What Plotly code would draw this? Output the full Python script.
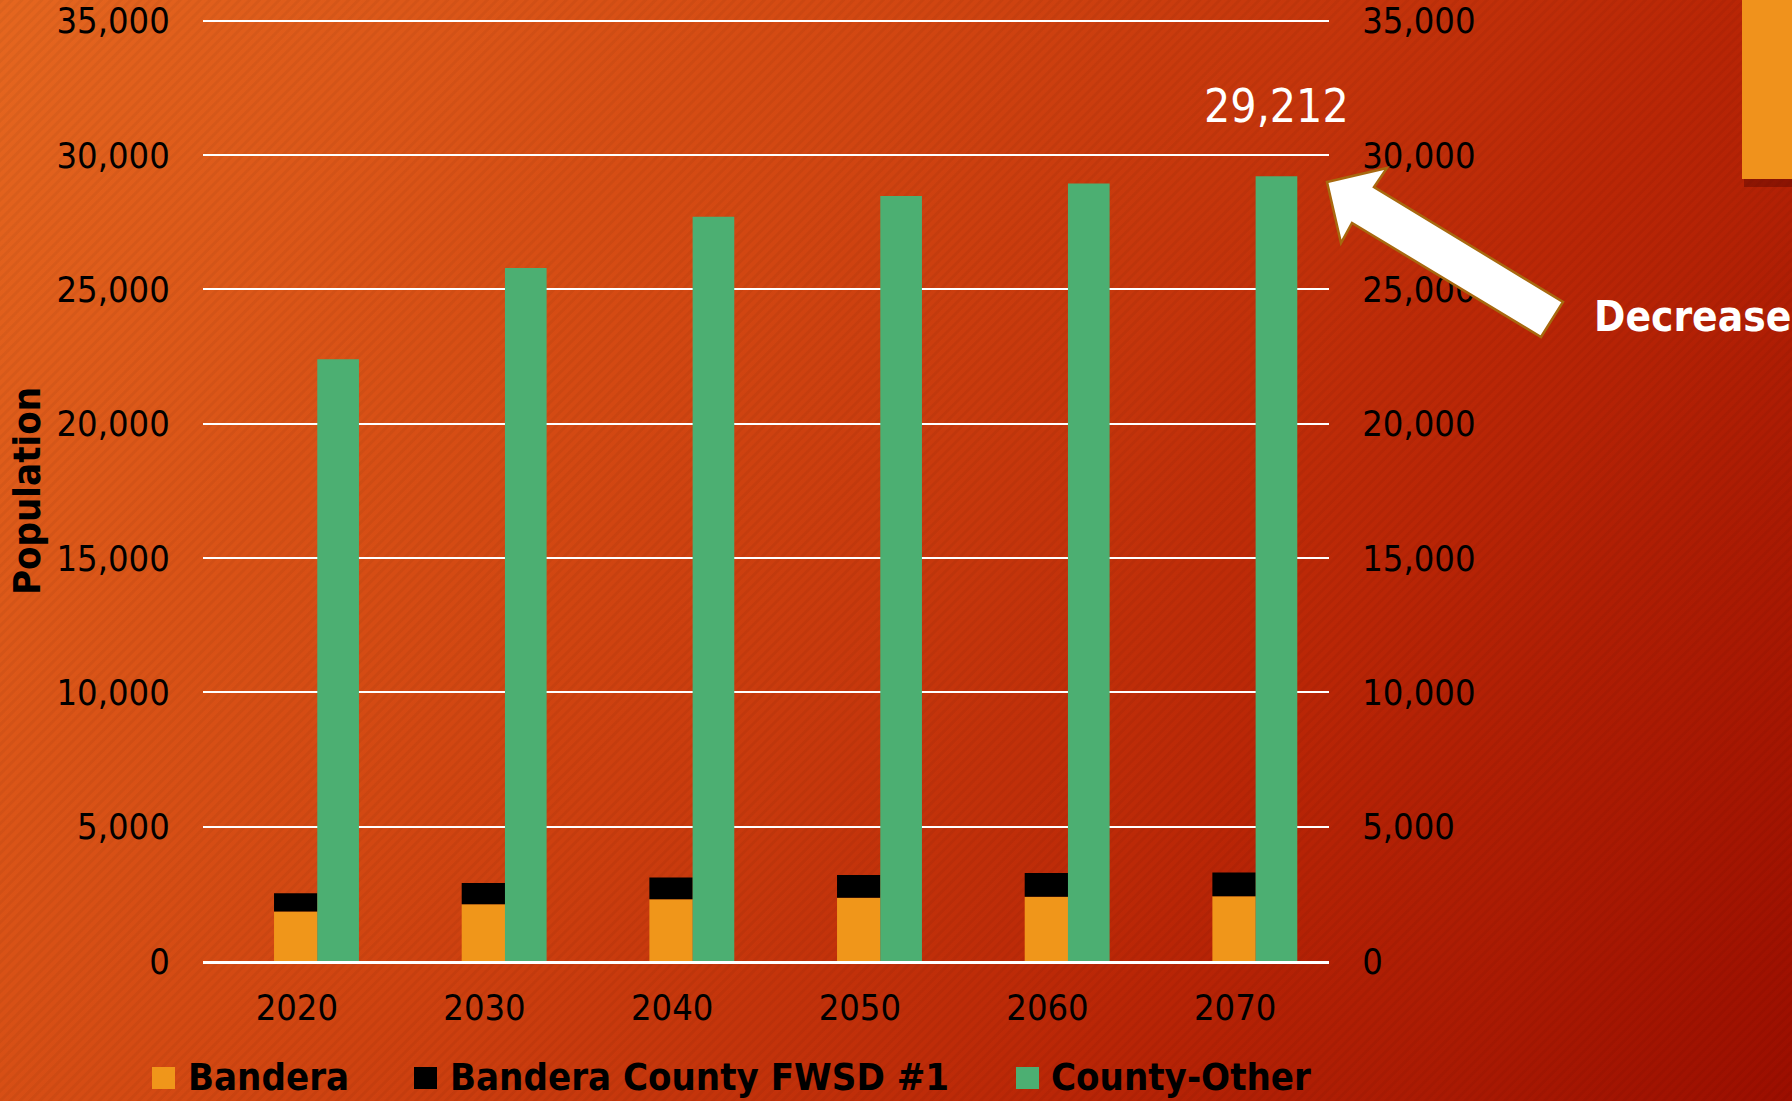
import base64
import plotly.graph_objects as go

# ---------------- data ----------------
years = ["2020", "2030", "2040", "2050", "2060", "2070"]
bandera = [1840, 2110, 2300, 2350, 2390, 2410]
fwsd = [685, 795, 810, 850, 890, 880]
county_other = [22400, 25790, 27700, 28470, 28940, 29212]
series_names = ["Bandera", "Bandera County FWSD #1", "County-Other"]
y_ticks = [0, 5000, 10000, 15000, 20000, 25000, 30000, 35000]
y_max = 35100

# ---------------- geometry helpers ----------------
W, H = 1792, 1101
L, R, T, B = 203, 463, 18, 140
PW, PH = W - L - R, H - T - B


def px(x):
    return (x - L) / PW


def py(y):
    return (H - B - y) / PH


ORANGE = "#F0961A"
BLACK = "#000000"
GREEN = "#4CAF72"
TICKFONT = "DejaVu Sans Condensed, Liberation Sans Narrow, sans-serif"

# ---------------- background (gradient + stripes) ----------------
svg = f'''<svg xmlns="http://www.w3.org/2000/svg" width="{W}" height="{H}" viewBox="0 0 {W} {H}" preserveAspectRatio="none">
<defs>
<linearGradient id="g" gradientUnits="userSpaceOnUse" x1="0" y1="0" x2="{W}" y2="{H}">
<stop offset="0" stop-color="rgb(229,102,31)"/>
<stop offset="0.35" stop-color="rgb(211,72,18)"/>
<stop offset="0.7" stop-color="rgb(186,38,6)"/>
<stop offset="1" stop-color="rgb(156,14,0)"/>
</linearGradient>
<pattern id="p" patternUnits="userSpaceOnUse" width="7" height="7" patternTransform="rotate(45)">
<rect x="0" y="0" width="3" height="7" fill="#000" fill-opacity="0.045"/>
</pattern>
</defs>
<rect width="{W}" height="{H}" fill="url(#g)"/>
<rect width="{W}" height="{H}" fill="url(#p)"/>
</svg>'''
bg_uri = "data:image/svg+xml;base64," + base64.b64encode(svg.encode()).decode()

fig = go.Figure()

fig.add_trace(go.Bar(
    x=years, y=bandera, name=series_names[0], marker=dict(color=ORANGE, line=dict(width=0)),
    offset=-0.1215, width=0.231, showlegend=False, yaxis="y"))
fig.add_trace(go.Bar(
    x=years, y=fwsd, base=bandera, name=series_names[1], marker=dict(color=BLACK, line=dict(width=0)),
    offset=-0.1215, width=0.231, showlegend=False, yaxis="y"))
fig.add_trace(go.Bar(
    x=years, y=county_other, name=series_names[2], marker=dict(color=GREEN, line=dict(width=0)),
    offset=0.109, width=0.222, showlegend=False, yaxis="y2"))

shapes = []
annotations = []

# top-right decorative block with shadow
shapes.append(dict(type="rect", xref="paper", yref="paper",
                   x0=px(1744), x1=px(1795), y0=py(187), y1=py(0),
                   fillcolor="rgba(70,0,0,0.35)", line=dict(width=0), layer="above"))
shapes.append(dict(type="rect", xref="paper", yref="paper",
                   x0=px(1742), x1=px(1795), y0=py(179), y1=py(-2),
                   fillcolor="#F0921C", line=dict(width=0), layer="above"))

# block arrow
arrow_pts = [(1327, 182), (1387, 168), (1374, 187), (1563, 302),
             (1541, 337), (1352, 223), (1341, 243)]
path = "M " + " L ".join(f"{px(a):.5f},{py(b):.5f}" for a, b in arrow_pts) + " Z"
shapes.append(dict(type="path", xref="paper", yref="paper", path=path,
                   fillcolor="white", line=dict(color="#A8690F", width=2.5), layer="above"))

# legend (manual)
legend_items = [(152, 186, ORANGE, series_names[0]),
                (414, 448, BLACK, series_names[1]),
                (1016, 1049, GREEN, series_names[2])]
for sq_x, tx, col, name in legend_items:
    shapes.append(dict(type="rect", xref="paper", yref="paper",
                       x0=px(sq_x), x1=px(sq_x + 23), y0=py(1089), y1=py(1067),
                       fillcolor=col, line=dict(width=0)))
    annotations.append(dict(xref="paper", yref="paper", x=px(tx), y=py(1077),
                            xanchor="left", yanchor="middle", showarrow=False,
                            text=f"<b>{name}</b>",
                            font=dict(family=TICKFONT, size=38, color="black")))

# y axis title
annotations.append(dict(xref="paper", yref="paper", x=px(27), y=py(491),
                        xanchor="center", yanchor="middle", showarrow=False,
                        text="<b>Population</b>", textangle=-90,
                        font=dict(family=TICKFONT, size=38, color="black")))

# data label for last County-Other value
annotations.append(dict(xref="x", yref="y2", x=len(years) - 1 + 0.22, y=county_other[-1],
                        xanchor="center", yanchor="middle", yshift=70, showarrow=False,
                        text=f"{county_other[-1]:,}",
                        font=dict(family=TICKFONT, size=46, color="white")))

# "Decrease" label
annotations.append(dict(xref="paper", yref="paper", x=px(1692), y=py(317),
                        xanchor="center", yanchor="middle", showarrow=False,
                        text="<b>Decrease</b>",
                        font=dict(family="DejaVu Sans Condensed, sans-serif",
                                  size=42, color="white")))

yaxis_common = dict(range=[0, y_max], tickvals=y_ticks, tickformat=",",
                    tickfont=dict(family=TICKFONT, size=36, color="black"),
                    ticks="outside", ticklen=25, tickcolor="rgba(0,0,0,0)",
                    ticklabeloverflow="allow", automargin=False,
                    zeroline=False, showline=False, fixedrange=True)

fig.update_layout(
    width=W, height=H,
    margin=dict(l=L, r=R, t=T, b=B, pad=0, autoexpand=False),
    paper_bgcolor="#C83A0E",
    plot_bgcolor="rgba(0,0,0,0)",
    barmode="overlay",
    showlegend=False,
    xaxis=dict(type="category", range=[-0.5, 5.5], showgrid=False, automargin=False,
               showline=True, linecolor="white", linewidth=2.5,
               ticks="outside", ticklen=13, tickcolor="rgba(0,0,0,0)",
               tickfont=dict(family=TICKFONT, size=36, color="black")),
    yaxis=dict(**yaxis_common, showgrid=True, gridcolor="white", gridwidth=1.6),
    yaxis2=dict(**yaxis_common, overlaying="y", side="right", showgrid=False),
    images=[dict(source=bg_uri, xref="paper", yref="paper",
                 x=px(0), y=py(0), sizex=W / PW, sizey=H / PH,
                 xanchor="left", yanchor="top", sizing="stretch", layer="below")],
    shapes=shapes,
    annotations=annotations,
)

fig.write_html(
    "out.html",
    config={"displayModeBar": False},
    post_script="document.body.style.margin='0';document.body.style.padding='0';"
                "document.documentElement.style.overflow='hidden';",
)
